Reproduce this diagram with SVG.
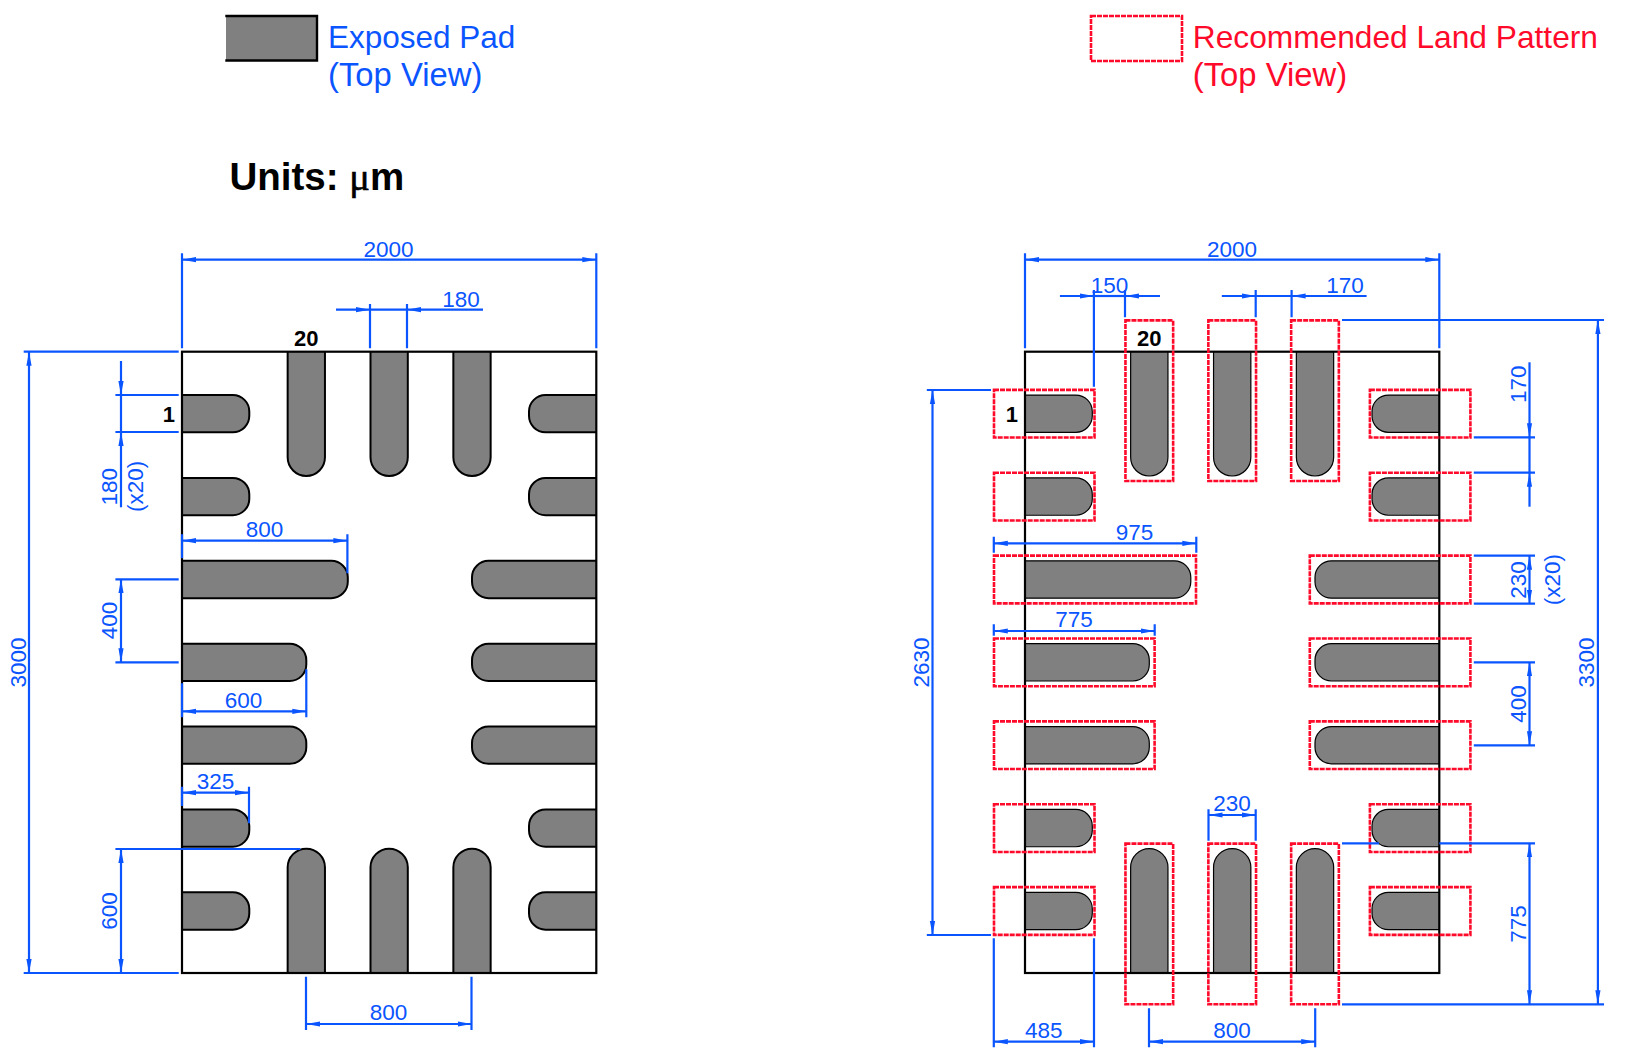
<svg xmlns="http://www.w3.org/2000/svg" width="1630" height="1063" viewBox="0 0 1630 1063">
<style>
text{font-family:"Liberation Sans",Arial,sans-serif}
.d{font-size:22.5px;fill:#0a55ff;text-anchor:middle}
.b{font-size:31.5px;fill:#0a55ff}
.r{font-size:31.7px;fill:#ff0a2a}
.t{font-size:32.8px}
.p{font-size:22px;font-weight:bold;fill:#000}
.pad{fill:#808080;stroke:#000;stroke-linejoin:round}
.land{fill:none;stroke:#ff0a2a;stroke-width:2.6;stroke-dasharray:5 1}
.box{fill:none;stroke:#000;stroke-width:2.2}
.l{fill:none;stroke:#0a55ff;stroke-width:2.2}
.a{marker-end:url(#ar)}
.aa{marker-start:url(#ar);marker-end:url(#ar)}
</style>
<defs>
<marker id="ar" markerUnits="userSpaceOnUse" markerWidth="15" markerHeight="8" refX="14" refY="3" orient="auto-start-reverse" viewBox="0 0 15 6"><path d="M0 .4L14 3L0 5.6Z" fill="#0a55ff"/></marker>
<path id="h325" d="M0-18.65H50.8A16.5 16.5 0 0 1 67.3-2.15V2.15A16.5 16.5 0 0 1 50.8 18.65H0"/>
<path id="h600" d="M0-18.65H107.8A16.5 16.5 0 0 1 124.3-2.15V2.15A16.5 16.5 0 0 1 107.8 18.65H0"/>
<path id="h800" d="M0-18.65H149.3A16.5 16.5 0 0 1 165.8-2.15V2.15A16.5 16.5 0 0 1 149.3 18.65H0"/>
<path id="v600" d="M0-18.65H105.65A18.65 18.65 0 0 1 105.65 18.65H0"/>
</defs>
<rect width="1630" height="1063" fill="#fff"/>

<g id="legend-exposed-pad">
<rect x="226" y="16" width="91" height="45" fill="#808080"/>
<path d="M225.3 16H317V60.5H225.3" fill="none" stroke="#000" stroke-width="2.4"/>
<text class="b" x="328" y="47.7">Exposed Pad</text>
<text class="b t" x="328" y="86">(Top View)</text>
</g>
<g id="legend-land-pattern">
<rect class="land" x="1091" y="16" width="91" height="45"/>
<text class="r" x="1192.8" y="47.7">Recommended Land Pattern</text>
<text class="r t" x="1192.8" y="86">(Top View)</text>
</g>
<text id="units" x="229.5" y="190" font-size="38.5" font-weight="bold" fill="#000">Units: <tspan font-family="'Liberation Serif',serif" font-weight="normal" stroke="#000" stroke-width=".6">μ</tspan>m</text>

<g id="exposed-pad-view">
<g class="pad" stroke-width="2">
<use id="l1" href="#h325" transform="translate(182,413.7)"/>
<use id="l2" href="#h325" transform="translate(182,496.6)"/>
<use id="l3" href="#h800" transform="translate(182,579.5)"/>
<use id="l4" href="#h600" transform="translate(182,662.35)"/>
<use id="l5" href="#h600" transform="translate(182,745.2)"/>
<use id="l6" href="#h325" transform="translate(182,828.1)"/>
<use id="l7" href="#h325" transform="translate(182,911)"/>
<use id="l8" href="#h325" transform="translate(596.3,413.7) scale(-1,1)"/>
<use id="l9" href="#h325" transform="translate(596.3,496.6) scale(-1,1)"/>
<use id="l10" href="#h600" transform="translate(596.3,579.5) scale(-1,1)"/>
<use id="l11" href="#h600" transform="translate(596.3,662.35) scale(-1,1)"/>
<use id="l12" href="#h600" transform="translate(596.3,745.2) scale(-1,1)"/>
<use id="l13" href="#h325" transform="translate(596.3,828.1) scale(-1,1)"/>
<use id="l14" href="#h325" transform="translate(596.3,911) scale(-1,1)"/>
<use id="l15" href="#v600" transform="translate(306.3,351.7) rotate(90)"/>
<use id="l16" href="#v600" transform="translate(389.15,351.7) rotate(90)"/>
<use id="l17" href="#v600" transform="translate(472,351.7) rotate(90)"/>
<use id="l18" href="#v600" transform="translate(306.3,973) rotate(-90)"/>
<use id="l19" href="#v600" transform="translate(389.15,973) rotate(-90)"/>
<use id="l20" href="#v600" transform="translate(472,973) rotate(-90)"/>
</g>
<rect class="box" x="182" y="351.7" width="414.3" height="621.3"/>
<text class="p" x="175" y="422" text-anchor="end">1</text>
<text class="p" x="306.3" y="346" text-anchor="middle">20</text>
</g>

<g id="land-pattern-view">
<g class="pad" stroke-width="1.2">
<use id="r1" href="#h325" transform="translate(1025,413.7)"/>
<use id="r2" href="#h325" transform="translate(1025,496.6)"/>
<use id="r3" href="#h800" transform="translate(1025,579.5)"/>
<use id="r4" href="#h600" transform="translate(1025,662.35)"/>
<use id="r5" href="#h600" transform="translate(1025,745.2)"/>
<use id="r6" href="#h325" transform="translate(1025,828.1)"/>
<use id="r7" href="#h325" transform="translate(1025,911)"/>
<use id="r8" href="#h325" transform="translate(1439.3,413.7) scale(-1,1)"/>
<use id="r9" href="#h325" transform="translate(1439.3,496.6) scale(-1,1)"/>
<use id="r10" href="#h600" transform="translate(1439.3,579.5) scale(-1,1)"/>
<use id="r11" href="#h600" transform="translate(1439.3,662.35) scale(-1,1)"/>
<use id="r12" href="#h600" transform="translate(1439.3,745.2) scale(-1,1)"/>
<use id="r13" href="#h325" transform="translate(1439.3,828.1) scale(-1,1)"/>
<use id="r14" href="#h325" transform="translate(1439.3,911) scale(-1,1)"/>
<use id="r15" href="#v600" transform="translate(1149.3,351.7) rotate(90)"/>
<use id="r16" href="#v600" transform="translate(1232.2,351.7) rotate(90)"/>
<use id="r17" href="#v600" transform="translate(1315,351.7) rotate(90)"/>
<use id="r18" href="#v600" transform="translate(1149.3,973) rotate(-90)"/>
<use id="r19" href="#v600" transform="translate(1232.2,973) rotate(-90)"/>
<use id="r20" href="#v600" transform="translate(1315,973) rotate(-90)"/>
</g>
<rect class="box" x="1025" y="351.7" width="414.3" height="621.3"/>
<g id="lands">
<rect class="land" x="994" y="389.85" width="100.5" height="47.7"/>
<rect class="land" x="994" y="472.75" width="100.5" height="47.7"/>
<rect class="land" x="994" y="555.65" width="202" height="47.7"/>
<rect class="land" x="994" y="638.5" width="160.6" height="47.7"/>
<rect class="land" x="994" y="721.35" width="160.6" height="47.7"/>
<rect class="land" x="994" y="804.25" width="100.5" height="47.7"/>
<rect class="land" x="994" y="887.15" width="100.5" height="47.7"/>
<rect class="land" x="1369.9" y="389.85" width="100.5" height="47.7"/>
<rect class="land" x="1369.9" y="472.75" width="100.5" height="47.7"/>
<rect class="land" x="1309.8" y="555.65" width="160.6" height="47.7"/>
<rect class="land" x="1309.8" y="638.5" width="160.6" height="47.7"/>
<rect class="land" x="1309.8" y="721.35" width="160.6" height="47.7"/>
<rect class="land" x="1369.9" y="804.25" width="100.5" height="47.7"/>
<rect class="land" x="1369.9" y="887.15" width="100.5" height="47.7"/>
<rect class="land" x="1125.45" y="320.4" width="47.7" height="160.6"/>
<rect class="land" x="1208.35" y="320.4" width="47.7" height="160.6"/>
<rect class="land" x="1291.15" y="320.4" width="47.7" height="160.6"/>
<rect class="land" x="1125.45" y="843.6" width="47.7" height="160.6"/>
<rect class="land" x="1208.35" y="843.6" width="47.7" height="160.6"/>
<rect class="land" x="1291.15" y="843.6" width="47.7" height="160.6"/>
</g>
<text class="p" x="1018" y="422" text-anchor="end">1</text>
<text class="p" x="1149.3" y="346" text-anchor="middle">20</text>
</g>

<g id="connectors">
<path class="l" d="M182 253.3V348.3M596.3 253.3V348.3M370 304V348.3M407 304V348.3M23.7 351.7H178.7M23.7 973H178.7M115.4 395H178.7M115.4 432H178.7M182 534.3V558.3M347.4 534.3V573.3M115.4 579.3H178.7M115.4 662.3H178.7M182 683.3V717.3M306.3 669.3V717.3M182 786.7V806M249 786.7V823.3M115.4 849H300.4M306 976.7V1030M471.5 976.7V1030"/>
<line class="l aa" x1="182" y1="259.7" x2="596.3" y2="259.7"/>
<line class="l a" x1="336" y1="309.7" x2="370" y2="309.7"/>
<line class="l" x1="370" y1="309.7" x2="407" y2="309.7"/>
<line class="l a" x1="483" y1="309.7" x2="407" y2="309.7"/>
<line class="l aa" x1="29" y1="351.7" x2="29" y2="973"/>
<line class="l a" x1="121" y1="361" x2="121" y2="395"/>
<line class="l" x1="121" y1="395" x2="121" y2="432"/>
<line class="l a" x1="121" y1="507.3" x2="121" y2="432"/>
<line class="l aa" x1="182" y1="540.7" x2="347.4" y2="540.7"/>
<line class="l aa" x1="121" y1="579.3" x2="121" y2="662.3"/>
<line class="l aa" x1="182" y1="711.3" x2="306.3" y2="711.3"/>
<line class="l aa" x1="182" y1="792.7" x2="249" y2="792.7"/>
<line class="l aa" x1="121" y1="849" x2="121" y2="973"/>
<line class="l aa" x1="306" y1="1024" x2="471.5" y2="1024"/>
<path class="l" d="M1025 253.3V348.3M1439.3 253.3V348.3M1093.9 290V386.7M1125 290V317.3M1255.7 290V317.3M1291.6 290V317.3M1342 320H1604M1342 1004.3H1604M926.8 390H991M926.8 935H991M1473.8 437.3H1535M1473.8 472.7H1535M1473.8 555.7H1535M1473.8 603.7H1535M993.8 536.7V552.7M1196.3 536.7V552.7M993.8 624.3V635.7M1154.7 624.3V635.7M1473.8 662.3H1535M1473.8 745.3H1535M1208.5 809.3V840.7M1255.7 809.3V840.7M1342 843.3H1379M1439.3 843.3H1535M993.8 938.3V1047.3M1094 938.3V1047.3M1149 1008.3V1047.3M1315.2 1008.3V1047.3"/>
<line class="l aa" x1="1025" y1="259.7" x2="1439.3" y2="259.7"/>
<line class="l a" x1="1059.9" y1="296" x2="1093.9" y2="296"/>
<line class="l" x1="1093.9" y1="296" x2="1125" y2="296"/>
<line class="l a" x1="1160" y1="296" x2="1125" y2="296"/>
<line class="l a" x1="1221.8" y1="296" x2="1255.7" y2="296"/>
<line class="l a" x1="1366.6" y1="296" x2="1291.6" y2="296"/>
<line class="l" x1="1255.7" y1="296" x2="1291.6" y2="296"/>
<line class="l aa" x1="1597.9" y1="320" x2="1597.9" y2="1004.3"/>
<line class="l aa" x1="932.5" y1="390" x2="932.5" y2="935"/>
<line class="l a" x1="1529.5" y1="362.3" x2="1529.5" y2="437.3"/>
<line class="l" x1="1529.5" y1="437.3" x2="1529.5" y2="472.7"/>
<line class="l a" x1="1529.5" y1="506.7" x2="1529.5" y2="472.7"/>
<line class="l aa" x1="1529.5" y1="555.7" x2="1529.5" y2="603.7"/>
<line class="l aa" x1="993.8" y1="543.3" x2="1196.3" y2="543.3"/>
<line class="l aa" x1="993.8" y1="631" x2="1154.7" y2="631"/>
<line class="l aa" x1="1529.5" y1="662.3" x2="1529.5" y2="745.3"/>
<line class="l aa" x1="1208.5" y1="815" x2="1255.7" y2="815"/>
<line class="l aa" x1="1529.5" y1="843.3" x2="1529.5" y2="1004.3"/>
<line class="l aa" x1="993.8" y1="1041.7" x2="1094" y2="1041.7"/>
<line class="l aa" x1="1149" y1="1041.7" x2="1315.2" y2="1041.7"/>
</g>

<g id="dimension-labels">
<text class="d" x="388.5" y="256.7">2000</text>
<text class="d" x="461" y="307.3">180</text>
<text class="d" transform="translate(25.5,662.4) rotate(-90)">3000</text>
<text class="d" transform="translate(117,486.7) rotate(-90)">180</text>
<text class="d" transform="translate(142.5,486.3) rotate(-90)">(x20)</text>
<text class="d" x="264.4" y="536.7">800</text>
<text class="d" transform="translate(117,620.6) rotate(-90)">400</text>
<text class="d" x="243.5" y="707.7">600</text>
<text class="d" x="215.4" y="789">325</text>
<text class="d" transform="translate(117,911) rotate(-90)">600</text>
<text class="d" x="388.5" y="1020">800</text>
<text class="d" x="1232" y="256.7">2000</text>
<text class="d" x="1109.4" y="293.3">150</text>
<text class="d" x="1345" y="293.3">170</text>
<text class="d" transform="translate(1594,662.4) rotate(-90)">3300</text>
<text class="d" transform="translate(929,662.4) rotate(-90)">2630</text>
<text class="d" transform="translate(1526,384.3) rotate(-90)">170</text>
<text class="d" transform="translate(1526,580) rotate(-90)">230</text>
<text class="d" transform="translate(1560,579.7) rotate(-90)">(x20)</text>
<text class="d" x="1134.5" y="540">975</text>
<text class="d" x="1074" y="627.3">775</text>
<text class="d" transform="translate(1526,704) rotate(-90)">400</text>
<text class="d" x="1232" y="811">230</text>
<text class="d" transform="translate(1526,924) rotate(-90)">775</text>
<text class="d" x="1043.8" y="1038.3">485</text>
<text class="d" x="1232" y="1038.3">800</text>
</g>
</svg>
